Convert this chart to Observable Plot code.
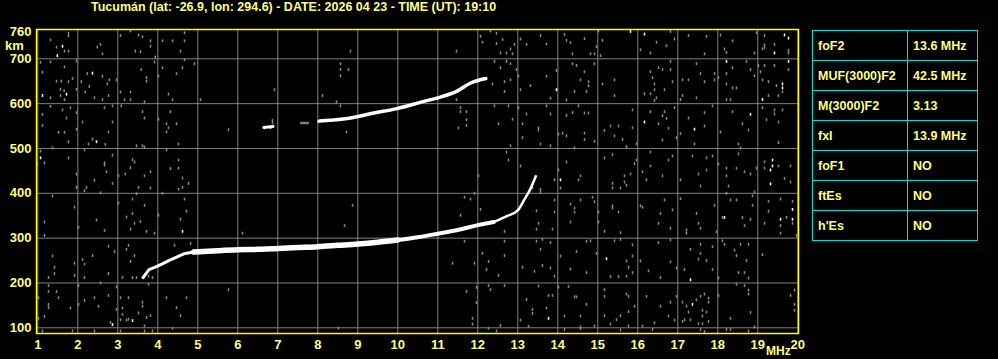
<!DOCTYPE html>
<html>
<head>
<meta charset="utf-8">
<script src="https://cdn.jsdelivr.net/npm/d3@7"></script>
<script src="https://cdn.jsdelivr.net/npm/@observablehq/plot@0.6"></script>
<style>
  html, body { margin: 0; padding: 0; background: #000; width: 998px; height: 359px; overflow: hidden; }
  body { position: relative; font-family: "Liberation Sans", Arial, sans-serif; font-weight: bold; color: #ffff80; }
  #chart { position: absolute; left: 0; top: 0; z-index: 0; }
  #title { position: absolute; top: 0px; left: 91px; font-size: 12.5px; white-space: nowrap; z-index: 2; }
  .lbl { position: absolute; z-index: 2; }
  #params { position: absolute; left: 812px; top: 30px; border-collapse: collapse; z-index: 2; }
  #params td { border: 1.5px solid #00dede; height: 29px; padding: 0 0 0 5px; font-size: 12.5px; vertical-align: middle; color: #ffff80; }
  #params td.name { width: 89px; }
  #params td.val { width: 64px; }
</style>
</head>
<body>
<div id="chart"></div>
<div id="title"></div>
<div class="lbl" style="left:5px;top:38px;font-size:13px;">km</div>
<div class="lbl" style="left:766px;top:344px;font-size:12px;">MHz</div>
<table id="params"></table>
<script>
const title = "Tucumán (lat: -26.9, lon: 294.6) - DATE: 2026 04 23 - TIME (UT): 19:10";
const freqTicks = [1,2,3,4,5,6,7,8,9,10,11,12,13,14,15,16,17,18,19,20];
const heightTicks = [100,200,300,400,500,600,700,760];
const gridHeights = [100,200,300,400,500,600,700];
const paramNames = ["foF2","MUF(3000)F2","M(3000)F2","fxI","foF1","ftEs","h'Es"];
const paramValues = ["13.6 MHz","42.5 MHz","3.13","13.9 MHz","NO","NO","NO"];

// first-hop F trace [MHz, km]
const traceF = [[3.63,212],[3.78,230],[3.95,236],[4.1,242],[4.3,251],[4.5,259],[4.65,265],[4.9,269],[5.5,272],[6.0,274],[6.5,275],[7.0,277],[7.5,279],[8.0,281],[8.5,284],[9.0,287],[9.5,291],[10.0,296],[10.5,302],[11.0,310],[11.5,318],[12.0,329],[12.4,336],[12.7,348],[13.0,362],[13.15,384],[13.3,407],[13.45,438]];
// second-hop trace
const trace2F = [[8.03,561],[8.3,563],[8.82,568],[9.4,579],[9.98,589],[10.65,605],[11.0,613],[11.48,628],[11.82,646],[12.2,656]];
const trace2Fpiece = [[6.65,547],[6.88,549]];
const trace2Fgray = [[7.58,557],[7.75,557]];

// scattered noise echoes [MHz, km]
const noiseGray = [
[1.33,741],[1.78,750],[1.78,756],[1.48,725],[1.68,716],[1.78,716],[2.5,725],[2.58,731],[2.63,710],[3.08,751],[3.33,761],[3.53,752],[3.63,748],[3.83,739],[3.83,727],[3.45,716],[3.58,715],[4.13,739],[4.38,739],[4.68,757],[4.68,739],[4.58,716],[3.95,703],
[1.08,691],[1.33,692],[1.68,681],[1.13,669],[1.48,649],[1.6,649],[1.78,648],[1.58,631],[1.67,628],[1.33,612],[1.58,617],[1.68,608],[1.88,655],[1.98,694],[1.98,631],[2.25,666],[2.1,648],[2.3,637],[2.2,625],[2.63,660],[2.75,643],[2.8,652],[2.98,652],[2.43,612],[2.63,608],[2.78,617],[3.08,625],[3.18,608],[3.33,608],[3.33,625],[3.6,675],[3.73,657],[3.73,649],[3.93,692],[4.13,679],[4.03,661],[4.48,666],[4.63,679],[4.68,697],[4.93,688],[4.28,620],[4.38,608],[3.68,603],[5.08,608],[6.93,630],
[1.33,593],[1.13,575],[1.13,550],[1.63,585],[1.73,567],[1.83,590],[1.53,535],[1.68,535],[1.78,514],[1.98,579],[1.98,542],[2.13,558],[2.38,520],[2.28,509],[2.68,590],[2.88,594],[2.88,558],[2.78,536],[2.7,508],[3.1,594],[3.63,581],[3.68,567],[3.48,505],[3.63,505],[3.68,502],[4.03,564],[4.23,554],[4.28,545],[4.33,581],[4.48,554],[4.23,536],[4.53,509],[5.78,541],[6.68,545],[6.88,556],[6.88,562],
[1.08,493],[1.18,467],[1.0,463],[1.38,500],[1.78,478],[1.98,442],[1.98,412],[2.18,496],[2.23,412],[2.18,405],[2.68,467],[2.68,462],[2.73,447],[2.88,484],[2.88,421],[3.03,438],[3.2,442],[3.33,456],[3.38,474],[3.43,469],[3.68,438],[3.83,447],[3.83,411],[3.53,412],[2.43,428],[2.58,400],[4.23,496],[4.33,454],[4.53,473],[4.53,455],[4.63,433],[4.78,421],[4.63,412],[4.53,408],
[1.38,393],[1.18,335],[1.18,305],[1.93,368],[2.03,323],[2.48,339],[2.68,316],[3.03,377],[3.38,386],[3.48,398],[3.68,372],[3.23,346],[3.38,354],[3.58,336],[3.43,332],[3.33,319],[3.73,314],[3.93,310],[4.03,350],[4.68,386],[4.73,359],[4.58,341],[6.13,310],[4.13,399],
[1.38,259],[1.43,234],[1.43,220],[1.28,211],[1.93,243],[1.93,216],[2.13,251],[2.18,241],[2.38,260],[2.18,211],[2.78,281],[2.93,269],[2.78,220],[3.28,283],[3.23,274],[3.43,260],[3.33,247],[3.13,211],[3.48,211],[3.38,211],[3.78,214],[3.88,211],[4.43,283],[4.83,287],[5.78,184],
[1.28,193],[1.28,180],[1.03,166],[1.48,180],[1.53,166],[1.28,151],[1.28,144],[1.18,124],[1.03,120],[1.83,143],[2.03,193],[2.03,151],[2.18,160],[2.43,166],[2.58,199],[2.78,171],[2.53,147],[2.98,190],[2.98,140],[3.08,166],[3.28,166],[3.13,143],[2.83,111],[3.08,117],[3.23,116],[3.28,118],[3.13,129],[3.53,132],[3.63,156],[3.63,147],[3.78,196],[3.83,126],[3.73,122],[3.68,103],[4.23,166],[4.48,144],[4.58,126],[4.73,166],[4.38,98],[1.13,92],[1.88,92],[2.43,92],[3.08,92],[3.68,92],[3.88,92],
[8.83,716],[11.48,716],[12.08,749],[12.13,736],[12.33,761],[12.48,756],[12.48,733],[12.63,742],[12.58,712],[12.73,712],[12.83,721],[12.88,710],[12.93,731],[13.08,743],[13.23,731],[13.58,751],[8.58,688],[8.58,675],[8.78,675],[8.58,661],[8.13,617],[8.48,603],[8.58,594],
[12.43,693],[12.58,679],[12.73,693],[12.83,688],[12.98,675],[13.03,661],[13.33,639],[13.08,630],[12.38,643],[12.68,648],[12.68,626],[12.83,652],[11.48,608],[11.58,590],[11.73,581],[11.73,563],[11.58,581],[11.73,550],[11.53,545],[8.73,536],
[12.43,594],[12.78,594],[13.03,590],[13.23,576],[12.88,564],[12.53,554],[13.13,554],[13.13,523],[13.53,545],[13.53,540],[13.58,509],[12.83,505],[12.73,491],[12.78,473],[13.08,460],[12.03,438],[8.88,372],[8.68,327],[11.68,390],[11.83,386],[11.93,399],[11.58,350],[12.08,363],[13.53,332],[13.48,319],[13.58,408],[13.58,402],[13.38,411],[13.48,360],
[12.68,314],[11.68,292],[12.68,292],[12.68,260],[13.48,292],[13.58,274],[12.13,265],[12.28,247],[12.23,229],[12.53,216],[11.93,243],[11.38,243],[13.13,234],[13.43,225],[13.63,238],[12.68,193],[12.28,193],[12.33,184],[11.98,189],[11.73,180],[11.98,155],[11.88,120],[11.88,107],[13.53,192],[13.23,162],[13.38,140],[13.38,131],[13.28,102],[13.08,116],[12.58,104],[12.48,92],[12.28,98],[8.53,98],[13.63,296],
[13.73,732],[14.18,753],[14.23,740],[14.33,735],[14.38,710],[14.68,744],[14.83,710],[14.93,710],[14.98,726],[15.13,740],[15.03,761],[15.08,706],[16.08,719],[16.33,712],[16.48,736],[16.73,728],[16.93,743],[16.83,760],[17.28,751],[17.73,749],[17.68,710],[18.08,752],[18.18,721],[18.38,739],[18.23,713],[18.93,712],[18.98,757],[19.18,751],[19.18,730],[19.18,724],[19.43,731],[19.78,712],[19.78,718],[19.13,721],
[13.73,660],[13.98,673],[13.83,611],[14.23,607],[14.38,688],[14.48,684],[14.68,670],[14.78,648],[14.78,639],[14.43,626],[14.73,626],[14.58,652],[14.93,688],[15.13,643],[15.43,652],[15.43,617],[16.33,670],[16.38,657],[16.43,643],[16.43,630],[16.33,621],[16.18,621],[16.53,679],[16.63,675],[16.83,693],[16.83,675],[16.88,648],[16.68,630],[16.48,612],[16.43,606],
[17.13,652],[17.28,652],[17.48,688],[17.58,666],[17.68,648],[17.13,617],[17.48,612],[17.93,666],[17.93,652],[18.03,657],[18.23,666],[18.23,643],[18.38,634],[18.48,634],[18.38,679],[18.73,693],[18.83,675],[18.93,661],[18.23,608],[18.33,608],[17.08,608],[19.03,684],[19.08,670],[19.18,684],[19.13,652],[19.28,648],[19.48,639],[19.63,625],[19.53,617],[19.28,617],[19.78,675],[19.43,684],
[13.73,594],[13.83,576],[14.03,531],[14.13,533],[14.23,527],[13.83,505],[14.23,573],[14.38,579],[14.68,578],[14.78,578],[14.53,594],[14.68,533],[14.68,519],[14.93,515],[15.18,539],[15.33,549],[15.53,549],[15.43,527],[15.63,519],[15.88,545],[15.88,585],[15.73,503],[15.98,509],[16.33,581],[16.53,554],[16.63,572],[16.68,581],[16.73,566],[16.78,544],[16.63,518],[16.98,523],[16.93,590],[17.08,532],
[17.28,567],[17.43,509],[17.68,579],[17.68,549],[17.88,594],[18.08,536],[18.38,581],[18.53,509],[18.78,540],[18.63,554],[19.13,590],[19.23,563],[19.43,585],[19.43,576],[19.63,585],[19.53,512],[19.53,558],
[14.03,451],[13.93,429],[14.08,411],[14.53,429],[14.58,438],[14.23,469],[14.43,500],[15.18,478],[15.38,485],[15.38,421],[15.38,411],[15.68,438],[15.68,424],[15.73,417],[15.83,442],[15.58,411],[15.98,473],[16.13,447],[16.23,429],[16.33,491],[16.33,460],[15.93,465],[16.78,473],[16.88,482],[16.63,438],[17.08,429],
[17.38,482],[17.53,442],[17.73,478],[17.88,482],[17.73,451],[17.58,415],[18.03,464],[18.23,455],[18.23,438],[18.48,455],[18.68,447],[18.83,442],[18.28,415],[18.53,487],[18.58,500],[18.98,455],[19.18,469],[19.18,455],[19.53,460],[19.83,460],[19.83,424],[19.68,432],
[13.93,384],[13.93,357],[14.33,375],[14.43,366],[14.43,357],[14.58,384],[14.33,335],[13.88,319],[14.88,390],[14.93,380],[15.03,357],[15.03,335],[15.18,314],[15.38,371],[15.38,366],[15.53,357],[15.58,311],[16.08,371],[16.13,368],[16.58,354],[16.68,384],[16.88,362],[16.53,332],[16.83,321],[17.08,387],[17.23,317],[17.48,354],[17.53,332],[17.58,321],[17.93,372],[17.98,313],[17.23,310],
[18.13,345],[18.33,384],[18.48,384],[18.63,345],[18.68,327],[18.83,341],[18.88,372],[18.88,393],[18.93,402],[18.23,399],[19.28,381],[19.28,359],[19.58,386],[19.58,327],[19.58,310],[19.88,381],[19.73,345],[19.18,332],[19.88,332],[19.98,305],
[13.83,289],[14.08,259],[13.83,232],[13.93,214],[14.73,292],[14.83,293],[14.48,269],[14.33,230],[14.73,222],[14.98,265],[15.43,293],[15.58,296],[15.88,284],[15.88,259],[15.78,234],[15.73,248],[15.88,222],[15.33,213],[15.53,213],[15.73,214],
[16.08,248],[16.28,226],[16.53,289],[16.58,211],[16.83,295],[16.83,246],[16.98,232],[17.18,229],[17.33,274],[17.58,285],[17.58,265],[17.53,252],[17.73,249],[17.88,280],[17.88,229],[18.03,210],[18.13,293],[18.18,285],[18.43,272],[18.48,260],[18.58,285],[18.73,249],[18.78,285],[18.53,222],[18.68,222],[18.78,210],[19.13,262],
[13.78,171],[13.88,171],[13.73,143],[14.03,190],[14.28,191],[14.18,125],[14.58,125],[14.43,168],[14.48,168],[14.73,151],[15.18,184],[15.18,169],[14.93,103],[14.58,101],[15.18,126],[15.48,117],[15.58,126],[15.73,174],[15.78,169],[15.78,135],[15.78,103],[15.93,147],[15.33,107],[16.13,103],[16.23,169],[16.43,110],[16.58,147],[16.83,156],[16.78,125],[16.93,116],[16.98,169],
[17.13,156],[17.23,147],[17.28,134],[17.48,161],[17.58,169],[17.63,138],[17.63,125],[17.68,174],[17.78,165],[17.78,156],[17.73,134],[17.33,117],[17.53,108],[17.63,108],[17.78,113],[17.13,113],[17.18,117],[18.03,171],[18.48,196],[18.68,193],[18.78,183],[18.78,174],[18.33,120],[18.83,133],[19.83,171],[19.93,183],[19.93,151],[19.93,138],[18.93,101],
[14.18,95],[14.58,97],[15.58,94],[16.38,95],[17.58,95],[17.68,91],[18.23,95],[18.33,95],[18.78,92]
];
const noiseWhite = [
[1.63,727],[1.5,706],[1.13,617],[1.73,620],[2.38,667],[2.48,514],[1.08,478],[4.63,314],[2.88,106],[3.38,115],[6.83,546],
[15.83,760],[16.18,754],[19.43,712],[19.68,752],[19.78,745],[13.98,630],[18.23,693],[19.63,643],[19.63,634],[19.13,608],[19.78,693],
[16.18,558],[17.43,542],[18.83,575],[14.08,429],[19.33,451],[19.38,460],[19.38,473],[19.33,420],[18.18,345],[19.58,341],[19.88,363],[19.88,341],
[15.23,253],[17.33,206],[13.78,120],[17.38,151]
];

document.getElementById("title").textContent = title;

const cell = (data, fill) => Plot.rect(data, {
  x1: d => d[0] - 0.019, x2: d => d[0] + 0.019,
  y1: d => d[1] - 3.2, y2: d => d[1] + 3.2,
  fill
});

const lowStart = traceF.filter(d => d[0] <= 4.9);
const lowMain = traceF.filter(d => d[0] >= 4.9 && d[0] <= 10.0);
const lowUpper = traceF.filter(d => d[0] >= 10.0 && d[0] <= 12.4);
const lowTop = traceF.filter(d => d[0] >= 12.4);

const chart = Plot.plot({
  width: 998,
  height: 359,
  marginLeft: 36,
  marginRight: 200,
  marginTop: 29,
  marginBottom: 26,
  style: {background: "#000", color: "#ffff80", fontFamily: "Liberation Sans, Arial, sans-serif", fontSize: "13px", fontWeight: "bold"},
  x: {domain: [0.9675, 20.0175], ticks: freqTicks, tickSize: 0, tickPadding: 6, label: null, tickFormat: d => String(d)},
  y: {domain: [87.3, 765.4], ticks: heightTicks, tickSize: 0, tickPadding: 5, label: null, tickFormat: d => String(d)},
  marks: [
    Plot.ruleX(freqTicks, {stroke: "#808080", strokeWidth: 1}),
    Plot.ruleY(gridHeights, {stroke: "#808080", strokeWidth: 1}),
    cell(noiseGray, "#8a8a8a"),
    Plot.line(trace2Fgray, {x: d => d[0], y: d => d[1], stroke: "#808080", strokeWidth: 2.5}),
    Plot.line(lowStart, {x: d => d[0], y: d => d[1], stroke: "#fff", strokeWidth: 3, curve: "linear"}),
    Plot.line(lowMain, {x: d => d[0], y: d => d[1], stroke: "#fff", strokeWidth: 5.5, curve: "monotone-x"}),
    Plot.line(lowUpper, {x: d => d[0], y: d => d[1], stroke: "#fff", strokeWidth: 4, curve: "monotone-x"}),
    Plot.line(lowTop, {x: d => d[0], y: d => d[1], stroke: "#fff", strokeWidth: 2.5, curve: "monotone-x"}),
    Plot.line(trace2F, {x: d => d[0], y: d => d[1], stroke: "#fff", strokeWidth: 3.5, curve: "monotone-x"}),
    Plot.line(trace2Fpiece, {x: d => d[0], y: d => d[1], stroke: "#fff", strokeWidth: 3}),
    cell(noiseWhite, "#fff"),
    Plot.frame({stroke: "#ffff00", strokeWidth: 1.5})
  ]
});
document.getElementById("chart").appendChild(chart);

const table = document.getElementById("params");
paramNames.forEach((n, i) => {
  const tr = document.createElement("tr");
  const a = document.createElement("td"); a.className = "name"; a.textContent = n;
  const b = document.createElement("td"); b.className = "val"; b.textContent = paramValues[i];
  tr.appendChild(a); tr.appendChild(b); table.appendChild(tr);
});
</script>
</body>
</html>
